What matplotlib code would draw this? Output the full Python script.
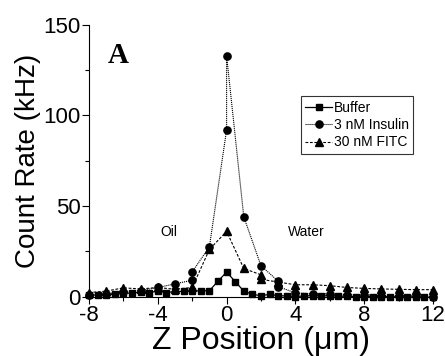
import numpy as np
import matplotlib
matplotlib.use('Agg')
import matplotlib.pyplot as plt
from matplotlib.ticker import MultipleLocator

plt.rcParams['font.family'] = ['Liberation Sans', 'DejaVu Sans']
plt.rcParams['axes.unicode_minus'] = False

# Buffer, every 0.5 um from -8 to 12
buffer_z = np.arange(-8, 12.5, 0.5)
buffer_rate = [0.8, 0.8, 1.0, 1.2, 2.0, 1.8, 2.5, 2.2, 3.0, 2.2, 2.8, 2.8, 3.0, 3.2, 3.2,
               8.5, 13.5, 8.3, 3.0, 1.2, 0.5, 1.2, 0.5, 0.3, 0.0, 0.3, 0.5, 0.3, 0.5, 0.2,
               0.2, 0.0, 0.0, 0.0, -0.2, 0.0, -0.2, -0.2, -0.3, -0.3, -0.5]

# 3 nM Insulin
insulin_z = [-8, -7, -6, -5, -4, -3, -2, -2, -1, 0, 0, 1, 2, 3, 3, 4, 5, 6, 7, 8, 9, 10, 11, 12]
insulin_rate = [1.0, 1.5, 2.5, 3.3, 5.0, 7.0, 9.0, 13.6, 27.5, 92, 133, 44, 17, 8.5, 5.5,
                2.0, 1.5, 1.5, 1.0, 1.0, 0.5, 0.5, 0.3, 0.0]

# 30 nM FITC
fitc_z = [-8, -7, -6, -5, -4, -3, -2, -1, 0, 1, 2, 2, 3, 4, 5, 6, 7, 8, 9, 10, 11, 12]
fitc_rate = [2.2, 3.0, 4.8, 4.2, 5.0, 4.0, 5.0, 26, 36, 15.5, 12, 9.5, 8.0, 6.5, 6.5, 6.0,
             5.0, 4.5, 4.2, 4.0, 3.8, 3.8]

fig = plt.figure(figsize=(4.45, 3.56), dpi=100)
ax = fig.add_axes([0.2, 0.167, 0.773, 0.763])

ax.plot(buffer_z, buffer_rate, '-', color='black', lw=0.9, marker='s', ms=4.8,
        label='Buffer')
ax.plot(insulin_z, insulin_rate, color='black', lw=0.8, ls=(0, (1, 0.8)), marker='o',
        ms=5.2, label='3 nM Insulin')
ax.plot(fitc_z, fitc_rate, color='black', lw=0.8, ls=(0, (2.5, 1.5)), marker='^',
        ms=5.8, label='30 nM FITC')

ax.set_xlim(-8, 12)
ax.set_ylim(0, 150)
ax.xaxis.set_major_locator(MultipleLocator(4))
ax.xaxis.set_minor_locator(MultipleLocator(2))
ax.yaxis.set_major_locator(MultipleLocator(50))
ax.yaxis.set_minor_locator(MultipleLocator(25))
ax.tick_params(which='major', direction='out', length=5, width=0.8, labelsize=16, pad=1)
ax.tick_params(which='minor', direction='out', length=3, width=0.8)
for s in ['top', 'right']:
    ax.spines[s].set_visible(False)
for s in ['left', 'bottom']:
    ax.spines[s].set_linewidth(0.8)
for line in ax.lines:
    line.set_clip_on(False)

ax.set_xlabel('Z Position (\u03bcm)', fontsize=23, labelpad=0)
ax.set_ylabel('Count Rate (kHz)', fontsize=20, labelpad=2)

ax.text(-3.35, 35.8, 'Oil', fontsize=10, ha='center', va='center')
ax.text(4.65, 35.8, 'Water', fontsize=10, ha='center', va='center')
ax.text(-6.9, 133, 'A', fontsize=21, fontweight='bold', family='Liberation Serif',
        ha='left', va='center')

leg = ax.legend(loc='upper left', bbox_to_anchor=(0.615, 0.737), fontsize=10,
                frameon=True, fancybox=False, edgecolor='black', handlelength=2.0,
                handletextpad=0.1, borderpad=0.3, labelspacing=0.25, borderaxespad=0)
leg.get_frame().set_linewidth(0.8)

fig.savefig('out.png', dpi=100)
